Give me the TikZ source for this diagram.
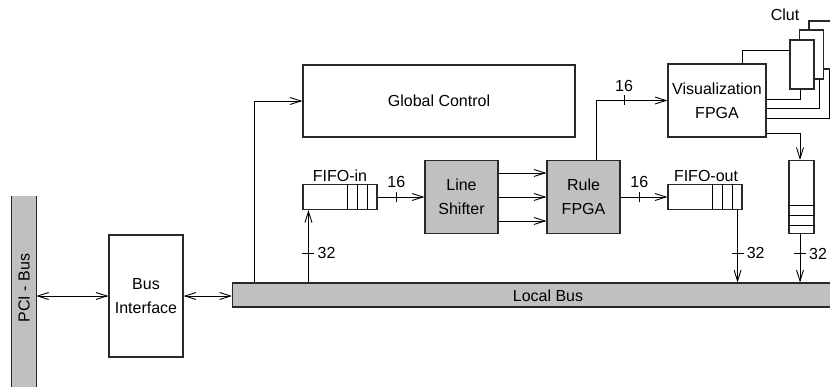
\documentclass[tikz,border=0pt]{standalone}
\usepackage{fontspec}
\setmainfont{Liberation Sans}
\usetikzlibrary{arrows.meta,calc}
\definecolor{busgray}{RGB}{192,192,192}
\definecolor{edgec}{RGB}{40,40,40}
\begin{document}
\begin{tikzpicture}[x=1pt,y=-1pt,
  every node/.style={font=\fontsize{16}{24}\selectfont, inner sep=0pt},
  blk/.style 2 args={draw=edgec, line width=1.1pt, fill=white, minimum width=#1, minimum height=#2, align=center},
  ln/.style={draw=black, line width=0.9pt},
  arr/.style={ln, -{Straight Barb[length=11pt,width=7pt]}},
  barr/.style={ln, {Straight Barb[length=11pt,width=7pt]}-{Straight Barb[length=11pt,width=7pt]}},
  divl/.style={draw=black, line width=0.9pt}]
\useasboundingbox (0,0) rectangle (830,387);
\clip (0,0) rectangle (830,387);

% blocks
\node[fill=busgray, minimum width=24pt, minimum height=192pt] (pci) at (24,292) {};
\draw[draw=edgec, line width=1.1pt] (pci.north west) -- (pci.south west);
\draw[draw=edgec, line width=1.1pt] (pci.north east) -- (pci.south east);
\node[rotate=90] (pcitext) at (24,288) {PCI - Bus};
\node[blk={74pt}{122pt}] (busif) at (146,296) {Bus\\Interface};
\node[blk={610pt}{24pt}, fill=busgray, anchor=west] (lbus) at (232,295) {};
\node (lbtext) at (548,296) {Local Bus};
\node[blk={272pt}{72pt}] (gc) at (439,101) {Global Control};

\node[blk={74pt}{25pt}] (fifoin) at (340,197) {};
\foreach \dx in {7,17,27} \draw[divl] ($(fifoin.north)+(\dx,0)$) -- ($(fifoin.south)+(\dx,0)$);
\node (fifointxt) at (340,176) {FIFO-in};

\node[blk={73pt}{73pt}, fill=busgray] (ls) at (461.5,197) {Line\\Shifter};
\node[blk={73pt}{73pt}, fill=busgray] (rule) at (583.5,197) {Rule\\FPGA};

\node[blk={74pt}{25pt}] (fifoout) at (705,197) {};
\foreach \dx in {7,17,27} \draw[divl] ($(fifoout.north)+(\dx,0)$) -- ($(fifoout.south)+(\dx,0)$);
\node (fifoouttxt) at (706,176) {FIFO-out};

\node[blk={25pt}{73pt}] (vfifo) at (801.5,197) {};
\foreach \dy in {8,18,28} \draw[divl] ($(vfifo.west)+(0,\dy)$) -- ($(vfifo.east)+(0,\dy)$);

\node[blk={98pt}{73pt}] (vis) at (717,100.5) {Visualization\\FPGA};

\node[blk={24pt}{48pt}] (r3) at (821,45) {};
\node[blk={24pt}{49pt}] (r2) at (811.5,54.5) {};
\node[blk={24pt}{49pt}] (r1) at (802,64.5) {};
\node (cluttxt) at (785,15) {Clut};

% connectors
\draw[barr] (pci.east |- busif.west) -- (busif.west);
\draw[barr] (busif.east) -- (busif.east -| lbus.west);

\coordinate (gcx) at ($(gc.west)+(-48,0)$);
\draw[arr] (gcx |- lbus.north) |- (gc.west);

\coordinate (fix) at ($(fifoin.south west)+(6,0)$);
\draw[arr] (fix |- lbus.north) -- coordinate[pos=0.4] (t1) (fix);
\draw[ln] ($(t1)+(-6,0)$) -- ($(t1)+(6,0)$);
\node[anchor=west] (l32a) at ($(t1)+(9,0)$) {32};

\draw[arr] (fifoin.east) -- coordinate[pos=0.4] (t2) (fifoin.east -| ls.west);
\draw[ln] ($(t2)+(0,-5)$) -- ($(t2)+(0,5)$);
\node[anchor=south] (l16a) at ($(t2)+(0,-9)$) {16};

\foreach \dy in {-24,0,24}
  \draw[arr] ($(ls.east)+(0,\dy)$) -- ($(rule.west)+(0,\dy)$);

\draw[arr] (rule.east) -- coordinate[pos=0.4] (t3) (rule.east -| fifoout.west);
\draw[ln] ($(t3)+(0,-5)$) -- ($(t3)+(0,5)$);
\node[anchor=south] (l16b) at ($(t3)+(0,-9)$) {16};

\coordinate (fox) at ($(fifoout.south east)+(-5,0)$);
\draw[arr] (fox) -- coordinate[pos=0.6] (t4) (fox |- lbus.north);
\draw[ln] ($(t4)+(-6,0)$) -- ($(t4)+(6,0)$);
\node[anchor=west] (l32b) at ($(t4)+(9,0)$) {32};

\coordinate (vfx) at ($(vfifo.south)+(-1.5,0)$);
\draw[arr] (vfx) -- coordinate[pos=0.41] (t5) (vfx |- lbus.north);
\draw[ln] ($(t5)+(-6,0)$) -- ($(t5)+(6,0)$);
\node[anchor=west] (l32c) at ($(t5)+(9,0)$) {32};

\coordinate (rn) at ($(rule.north)+(12.5,0)$);
\draw[arr] (rn) |- (vis.west);
\coordinate (t6) at ($(rn |- vis.west)+(28,0)$);
\draw[ln] ($(t6)+(0,-5)$) -- ($(t6)+(0,5)$);
\node[anchor=south] (l16c) at ($(t6)+(0,-9)$) {16};

\coordinate (vtop) at ($(vfifo.north)+(-1.5,0)$);
\draw[arr] ($(vis.south east)+(0,-4)$) -| (vtop);

\coordinate (vt) at ($(vis.north east)+(-24,0)$);
\draw[ln] (vt) |- ($(r1.west)+(0,-14.5)$);
\draw[ln] ($(vis.east)+(0,-1.5)$) -| ($(r1.south)+(-2,0)$);
\draw[ln] ($(vis.east)+(0,7.5)$) -| ($(r2.south)+(8,0)$);
\draw[ln] ($(vis.east)+(0,17.5)$) -| ($(r3.south)+(8,0)$);
\end{tikzpicture}
\end{document}
